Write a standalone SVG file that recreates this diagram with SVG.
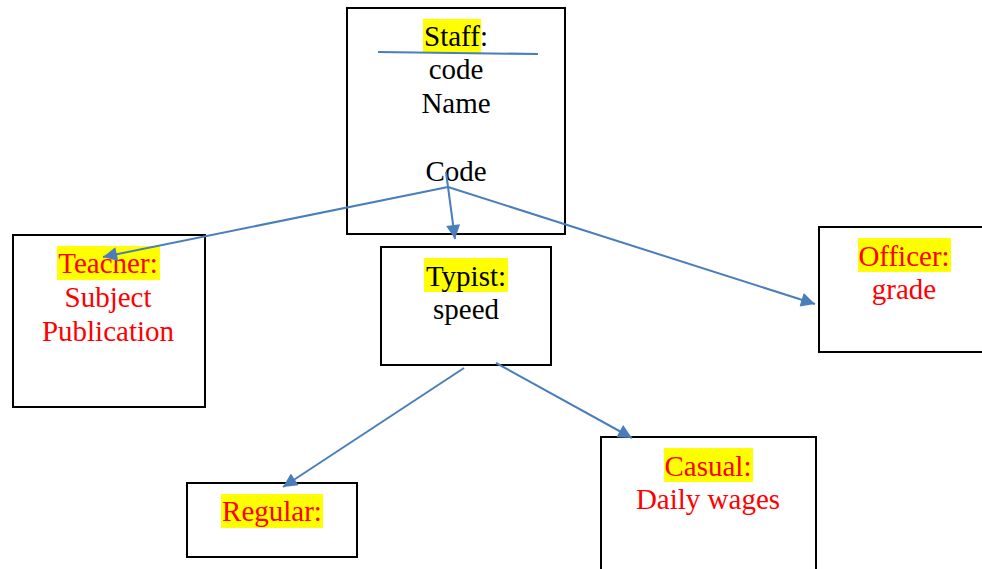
<svg xmlns="http://www.w3.org/2000/svg" width="982" height="569" viewBox="0 0 982 569">
<style>
.box{fill:#fff;stroke:#000;stroke-width:2}
.t{font-family:"Liberation Serif","Times New Roman",serif;font-size:29px;text-anchor:middle}
.k{fill:#000}
.r{fill:#ff0000}
.hl{fill:#ffff00}
.c{stroke:#4a7ebb;stroke-width:2;fill:none}
</style>
<defs>
<marker id="ah" viewBox="0 0 10 10" refX="10" refY="5" markerWidth="18" markerHeight="14" markerUnits="userSpaceOnUse" orient="auto">
<path d="M0,0 L10,5 L0,10 Z" fill="#4a7ebb"/>
</marker>
</defs>
<rect width="982" height="569" fill="#fff"/>
<g id="staff">
<rect class="box" x="347" y="8" width="218" height="226"/>
<rect class="hl" x="423" y="19" width="58" height="34"/>
<text class="t k" x="456" y="46">Staff:</text>
<line x1="378" y1="52" x2="538" y2="54" stroke="#4a7ebb" stroke-width="2"/>
<text class="t k" x="456" y="79">code</text>
<text class="t k" x="456" y="113">Name</text>
<text class="t k" x="456" y="181">Code</text>
</g>
<g id="teacher">
<rect class="box" x="13" y="235" width="192" height="172"/>
<rect class="hl" x="57" y="246" width="103" height="34"/>
<text class="t r" x="108" y="273">Teacher:</text>
<text class="t r" x="108" y="307">Subject</text>
<text class="t r" x="108" y="341">Publication</text>
</g>
<g id="typist">
<rect class="box" x="381" y="247" width="170" height="118"/>
<rect class="hl" x="424" y="258" width="84" height="34"/>
<text class="t k" x="466" y="286">Typist:</text>
<text class="t k" x="466" y="319">speed</text>
</g>
<g id="officer">
<rect class="box" x="819" y="227" width="175" height="125"/>
<rect class="hl" x="858" y="238" width="93" height="34"/>
<text class="t r" x="904" y="266">Officer:</text>
<text class="t r" x="904" y="299">grade</text>
</g>
<g id="regular">
<rect class="box" x="187" y="483" width="170" height="74"/>
<rect class="hl" x="221" y="494" width="102" height="34"/>
<text class="t r" x="272" y="521">Regular:</text>
</g>
<g id="casual">
<rect class="box" x="601" y="437" width="215" height="145"/>
<rect class="hl" x="664" y="448" width="89" height="34"/>
<text class="t r" x="708" y="476">Casual:</text>
<text class="t r" x="708" y="509">Daily wages</text>
</g>
<g id="connectors">
<path class="c" d="M448 187 L103 257" marker-end="url(#ah)"/>
<path class="c" d="M446 172 L455 239" marker-end="url(#ah)"/>
<path class="c" d="M448 187 L815 304" marker-end="url(#ah)"/>
<path class="c" d="M464 368 L283 487" marker-end="url(#ah)"/>
<path class="c" d="M496 363 L632 438" marker-end="url(#ah)"/>
</g>
</svg>
